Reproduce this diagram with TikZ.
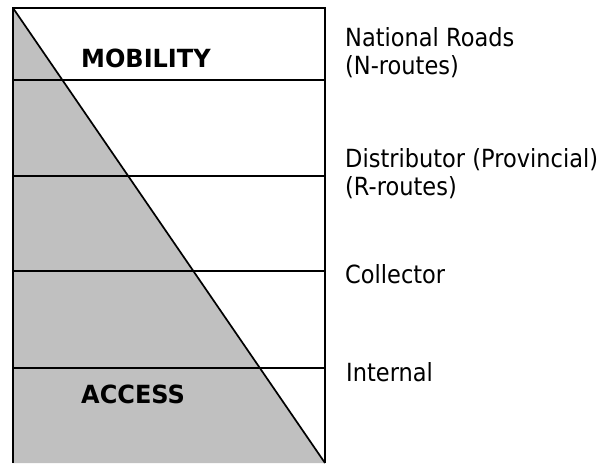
\documentclass[tikz,border=0pt]{standalone}
\usepackage{fontspec}
\setmainfont{DejaVu Sans}
\newfontfamily\labfont{DejaVu Sans}[FakeStretch=0.9]
\newfontfamily\boldlabfont{DejaVu Sans Bold}[FakeStretch=0.96]
\begin{document}
\begin{tikzpicture}[x=1pt,y=-1pt,
  frame/.style={line width=2.2pt},
  level/.style={line width=1.7pt},
  lab/.style={anchor=base west,inner sep=0pt,font=\labfont\fontsize{25}{30}\selectfont},
  biglab/.style={anchor=base west,inner sep=0pt,font=\boldlabfont\fontsize{25}{30}\selectfont}]
\useasboundingbox (0,0) rectangle (607,463);
\coordinate (tl) at (13,8);
\coordinate (tr) at (325,8);
\coordinate (bl) at (13,463);
\coordinate (br) at (325,463);
\fill[fill={rgb,255:red,192;green,192;blue,192}] (tl) -- (br) -- (bl) -- cycle;
\foreach \y in {80,176,271,368}{
  \draw[level] (13,\y) -- (325,\y);
}
\draw[level] (tl) -- (br);
\draw[frame] (bl) -- (tl) -- (tr) -- (br);
\node[biglab] (mob) at (81,67.3) {MOBILITY};
\node[biglab] (acc) at (81,403.3) {ACCESS};
\node[lab] (n1) at (345,46.7) {National Roads};
\node[lab] (n2) at (345,74.5) {(N-routes)};
\node[lab] (d1) at (345,167.3) {Distributor (Provincial)};
\node[lab] (d2) at (345,195) {(R-routes)};
\node[lab] (c1) at (345,283.3) {Collector};
\node[lab] (i1) at (346,381.7) {Internal};
\end{tikzpicture}
\end{document}
